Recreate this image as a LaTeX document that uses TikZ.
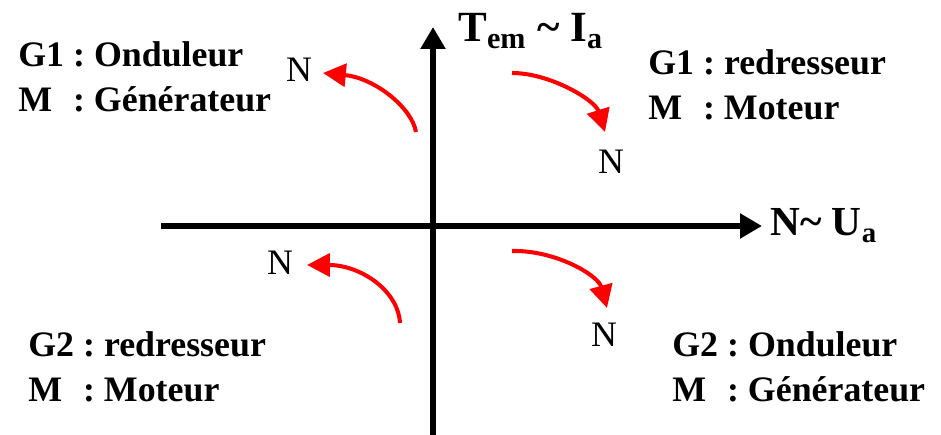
\documentclass[tikz,border=0pt]{standalone}
\usepackage{fontspec}
\setmainfont{Liberation Serif}
\usetikzlibrary{arrows.meta}
\definecolor{qArrow}{HTML}{FF0000}
\definecolor{qAxis}{HTML}{000000}
\tikzset{
    axisLine/.style={
        line width=3.4pt,
        draw=qAxis,
        -{Triangle[length=12.5pt, width=13.6pt]}
    },
    flowArrow/.style={
        line width=2.3pt,
        draw=qArrow,
        -{Triangle[length=13pt, width=13pt]}
    },
    % Labels
    quadText/.style={anchor=base west, inner sep=0pt, font=\fontsize{20.4}{25.5}\selectfont\bfseries},
    axisText/.style={anchor=base west, inner sep=0pt},
    speedText/.style={inner sep=0pt, font=\fontsize{20.4}{25}\selectfont}
}

\begin{document}
\begin{tikzpicture}[x=0.02cm, y=-0.02cm]
    \useasboundingbox (0,0) rectangle (941,435);

    % Axes
    \coordinate (yFoot) at (433,435);
    \coordinate (yTip) at (433,27);
    \coordinate (xFoot) at (161,226);
    \coordinate (xTip) at (762,226);
    \draw[axisLine] (yFoot) -- (yTip);
    \draw[axisLine] (xFoot) -- (xTip);

    \node[axisText, font=\fontsize{24.5}{30}\selectfont\bfseries] (torque) at (458,42)
        {T\textsubscript{em} \textasciitilde{} I\textsubscript{a}};
    \node[axisText, font=\fontsize{23.5}{28}\selectfont\bfseries] (speed) at (770,236)
        {N\textasciitilde{} U\textsubscript{a}};

    % Quadrant texts
    \node[quadText] (qTwo) at (18,67)
        {\begin{tabular}[t]{@{}l@{\ :\ }l@{}}G1 & Onduleur\\ M & Générateur\end{tabular}};
    \node[quadText] (qOne) at (648,75)
        {\begin{tabular}[t]{@{}l@{\ :\ }l@{}}G1 & redresseur\\ M & Moteur\end{tabular}};
    \node[quadText] (qThree) at (28,357)
        {\begin{tabular}[t]{@{}l@{\ :\ }l@{}}G2 & redresseur\\ M & Moteur\end{tabular}};
    \node[quadText] (qFour) at (672,357)
        {\begin{tabular}[t]{@{}l@{\ :\ }l@{}}G2 & Onduleur\\ M & Générateur\end{tabular}};

    % Speed marks
    \node[speedText] (nTwo) at (299,70) {N};
    \node[speedText] (nOne) at (611,162) {N};
    \node[speedText] (nThree) at (280,263) {N};
    \node[speedText] (nFour) at (604,335) {N};

    % Red arrows
    \coordinate (aTwoS) at (416,132);  \coordinate (aTwoE) at (323,73);
    \coordinate (aOneS) at (512,73);   \coordinate (aOneE) at (605,132);
    \coordinate (aThreeS) at (400,323); \coordinate (aThreeE) at (307,265);
    \coordinate (aFourS) at (512,251);  \coordinate (aFourE) at (607,308);
    \draw[flowArrow] (aTwoS) .. controls (412,108) and (375,78) .. (aTwoE);
    \draw[flowArrow] (aOneS) .. controls (550,73) and (595,100) .. (aOneE);
    \draw[flowArrow] (aThreeS) .. controls (398,290) and (360,265) .. (aThreeE);
    \draw[flowArrow] (aFourS) .. controls (555,250) and (598,275) .. (aFourE);
\end{tikzpicture}
\end{document}
